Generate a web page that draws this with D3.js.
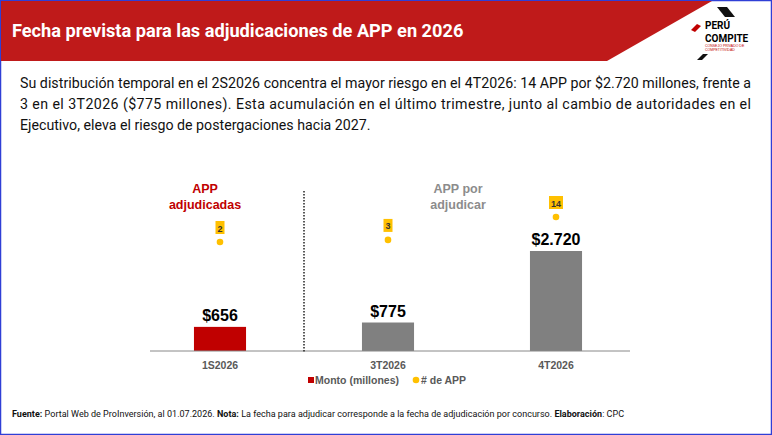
<!DOCTYPE html>
<html>
<head>
<meta charset="utf-8">
<script src="https://d3js.org/d3.v7.min.js"></script>
<style>
  body { margin: 0; background: #fff; font-family: "Liberation Sans", Arial, sans-serif; }
  svg { display: block; }
</style>
</head>
<body>
<script>
// data
var categories = ["1S2026", "3T2026", "4T2026"];
var monto = [656, 775, 2720];
var numApp = [2, 3, 14];
var montoLabels = ["$656", "$775", "$2.720"];
var barColors = ["#c00000", "#808080", "#808080"];

var W = 772, H = 435;
var svg = d3.select("body").append("svg").attr("width", W).attr("height", H);

svg.append("rect").attr("x", 0.5).attr("y", 0.5).attr("width", W - 1).attr("height", H - 1)
  .attr("fill", "#fff").attr("stroke", "#2f3fd6").attr("stroke-width", 1.5);

// header band
svg.append("path").attr("d", "M1,1 L712,1 L607,61 L1,61 Z").attr("fill", "#bf1a1a");
svg.append("text").attr("x", 12).attr("y", 37).attr("fill", "#fff")
  .style("font-family", "Roboto, 'Liberation Sans', sans-serif").style("font-weight", "bold").style("font-size", "18.2px")
  .text("Fecha prevista para las adjudicaciones de APP en 2026");

// logo
var logo = svg.append("g");
logo.append("path").attr("d", "M717,7 L727,7 L735,17 L725,17 Z").attr("fill", "#111");
logo.append("path").attr("d", "M691,30 L697,24 L701,26 L695,32 Z").attr("fill", "#c00000");
logo.append("path").attr("d", "M697,60 L703,54 L708,54 L702,60 Z").attr("fill", "#111");
logo.append("text").attr("x", 705).attr("y", 29).style("font-weight", "bold").style("font-size", "10px")
  .style("font-family", "Roboto, sans-serif").text("PERÚ");
logo.append("text").attr("x", 705).attr("y", 42).style("font-weight", "bold").style("font-size", "10px")
  .style("font-family", "Roboto, sans-serif").text("COMPITE");
logo.append("text").attr("x", 705).attr("y", 47).attr("fill", "#c00000").style("font-size", "3.5px").text("CONSEJO PRIVADO DE");
logo.append("text").attr("x", 705).attr("y", 51).attr("fill", "#c00000").style("font-size", "3.5px").text("COMPETITIVIDAD");

// paragraph
var para = [
  "Su distribución temporal en el 2S2026 concentra el mayor riesgo en el 4T2026: 14 APP por $2.720 millones, frente a",
  "3 en el 3T2026 ($775 millones). Esta acumulación en el último trimestre, junto al cambio de autoridades en el",
  "Ejecutivo, eleva el riesgo de postergaciones hacia 2027."
];
svg.selectAll("text.para").data(para).enter().append("text")
  .attr("class", "para").attr("x", 20).attr("y", function (d, i) { return 88 + i * 21; })
  .style("font-family", "Roboto, sans-serif").style("font-size", "14.2px").attr("fill", "#111")
  .attr("textLength", function (d, i) { return i < 2 ? 731 : null; })
  .attr("lengthAdjust", "spacing")
  .text(function (d) { return d; });

// chart
var x = d3.scaleBand().domain(categories).range([136, 640]).paddingInner(0.69).paddingOuter(0.345);
var y = d3.scaleLinear().domain([0, 2720]).range([351, 251]);
var y2 = d3.scaleLinear().domain([2, 14]).range([242, 217]);

svg.selectAll("rect.bar").data(monto).enter().append("rect")
  .attr("x", function (d, i) { return x(categories[i]); })
  .attr("y", function (d) { return y(d); })
  .attr("width", x.bandwidth())
  .attr("height", function (d) { return y(0) - y(d); })
  .attr("fill", function (d, i) { return barColors[i]; });

svg.append("line").attr("x1", 150).attr("x2", 630).attr("y1", 351).attr("y2", 351).attr("stroke", "#888").attr("stroke-width", 1);
svg.append("line").attr("x1", 304).attr("x2", 304).attr("y1", 191).attr("y2", 352)
  .attr("stroke", "#222").attr("stroke-width", 1.5).attr("stroke-dasharray", "1.5,1.5");

svg.selectAll("text.val").data(montoLabels).enter().append("text")
  .attr("x", function (d, i) { return x(categories[i]) + x.bandwidth() / 2; })
  .attr("y", function (d, i) { return y(monto[i]) - 6; })
  .attr("text-anchor", "middle").style("font-weight", "bold").style("font-size", "16px")
  .text(function (d) { return d; });

svg.selectAll("text.cat").data(categories).enter().append("text")
  .attr("x", function (d) { return x(d) + x.bandwidth() / 2; }).attr("y", 369)
  .attr("text-anchor", "middle").style("font-weight", "bold").style("font-size", "10.5px").attr("fill", "#595959")
  .text(function (d) { return d; });

svg.selectAll("circle.dot").data(numApp).enter().append("circle")
  .attr("cx", function (d, i) { return x(categories[i]) + x.bandwidth() / 2; })
  .attr("cy", function (d) { return y2(d); }).attr("r", 3.3).attr("fill", "#ffc000");

var lbl = svg.selectAll("g.nlab").data(numApp).enter().append("g")
  .attr("transform", function (d, i) { return "translate(" + (x(categories[i]) + x.bandwidth() / 2) + "," + (y2(d) - 14) + ")"; });
lbl.append("rect").attr("x", function (d) { return d > 9 ? -7 : -4.5; }).attr("y", -7)
  .attr("width", function (d) { return d > 9 ? 14 : 9; }).attr("height", 13).attr("fill", "#ffc000");
lbl.append("text").attr("y", 3.5).attr("text-anchor", "middle").style("font-weight", "bold").style("font-size", "9px")
  .attr("fill", "#333").text(function (d) { return d; });

// annotations
[["APP", "adjudicadas", 205, "#c00000"], ["APP por", "adjudicar", 458, "#8c8c8c"]].forEach(function (a) {
  var t = svg.append("text").attr("text-anchor", "middle").style("font-weight", "bold").style("font-size", "12.5px").attr("fill", a[3]);
  t.append("tspan").attr("x", a[2]).attr("y", 193).text(a[0]);
  t.append("tspan").attr("x", a[2]).attr("y", 209).text(a[1]);
});

// legend
svg.append("rect").attr("x", 308).attr("y", 377).attr("width", 6).attr("height", 6).attr("fill", "#c00000");
svg.append("text").attr("x", 315).attr("y", 384).style("font-weight", "bold").style("font-size", "10.5px").attr("fill", "#595959").text("Monto (millones)");
svg.append("circle").attr("cx", 416).attr("cy", 380).attr("r", 3.3).attr("fill", "#ffc000");
svg.append("text").attr("x", 421).attr("y", 384).style("font-weight", "bold").style("font-size", "10.5px").attr("fill", "#595959").text("# de APP");

// footnote
var f = svg.append("text").attr("x", 12).attr("y", 417).style("font-family", "Roboto, sans-serif").style("font-size", "9px").attr("fill", "#111")
  .attr("textLength", 612).attr("lengthAdjust", "spacing");
f.append("tspan").style("font-weight", "bold").text("Fuente: ");
f.append("tspan").text("Portal Web de ProInversión, al 01.07.2026.  ");
f.append("tspan").style("font-weight", "bold").text("Nota: ");
f.append("tspan").text("La fecha para adjudicar corresponde a la fecha de adjudicación por concurso. ");
f.append("tspan").style("font-weight", "bold").text("Elaboración");
f.append("tspan").text(": CPC");
</script>
</body>
</html>
